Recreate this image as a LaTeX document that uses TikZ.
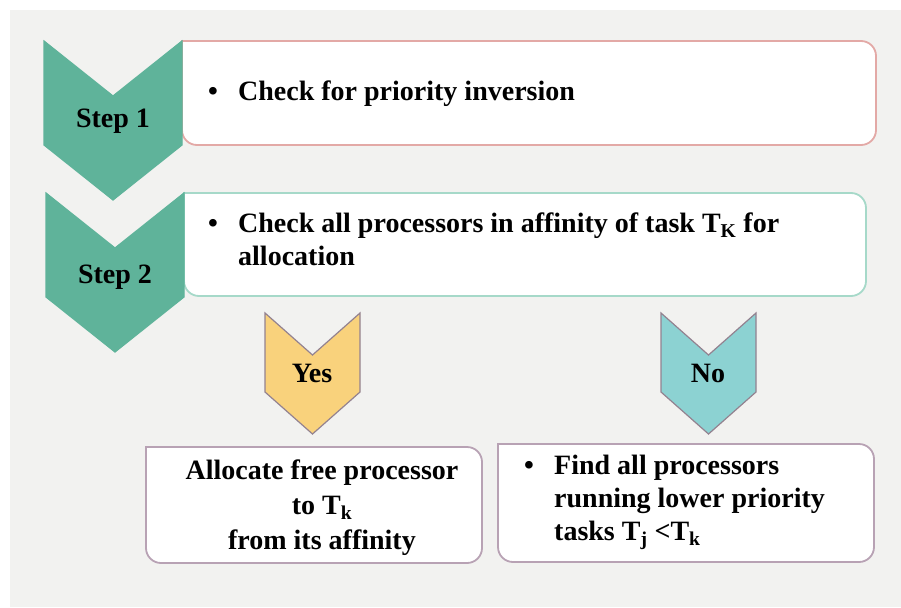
\documentclass[tikz,border=0pt]{standalone}
\usepackage{fontspec}
\setmainfont{Liberation Serif}[BoldFont={Liberation Serif Bold}]
\definecolor{fond}{HTML}{F2F2F0}
\definecolor{vert}{HTML}{5FB39A}
\definecolor{rose}{HTML}{E3A9A6}
\definecolor{menthe}{HTML}{A6D9C9}
\definecolor{jaune}{HTML}{F9D27C}
\definecolor{cyan2}{HTML}{8CD2D2}
\definecolor{mauve}{HTML}{B8A2B4}

\begin{document}
\begin{tikzpicture}[x=1pt, y=-1pt, anchor=center, font=\rmfamily\bfseries\fontsize{28}{33}\selectfont]

		\newcommand{\mkchevron}[7]{
			%x, y, width, height, notch, fill, border
			\filldraw[fill=#6, draw=#7, line width=1.2pt, line join=miter] (#1,#2) -- (#1+#3/2,#2+#5) -- (#1+#3,#2) -- (#1+#3,#2+#4) -- (#1+#3/2,#2+#4+#5) -- (#1,#2+#4) -- cycle;
		}

		\newcommand{\mkbox}[5]{
			%square on the left, rounded on the right
			\filldraw[fill=white, draw=#5, line width=1.8pt] (#1,#2) [rounded corners=15pt] -- (#3,#2) -- (#3,#4) -- (#1,#4) [sharp corners] -- cycle;
		}

		\newcommand{\bul}{\makebox[30pt][l]{\textbullet}}
		\newcommand{\ind}{\hspace*{30pt}}

		%background
		\fill[white] (0,0) rectangle (901,607);
		\fill[fond] (10,10) rectangle (901,607);

		%boxes
		\mkbox{182}{41}{876}{145}{rose}
		\mkbox{184}{193}{866}{296}{menthe}
		\mkbox{146}{447}{482}{563}{mauve}
		\mkbox{498}{444}{874}{562}{mauve}

		%chevrons
		\mkchevron{44}{41}{138}{104}{55}{vert}{vert}
		\mkchevron{46}{193}{138}{104}{55}{vert}{vert}
		\mkchevron{265}{313}{95}{79}{42}{jaune}{mauve!80!black}
		\mkchevron{661}{313}{95}{79}{42}{cyan2}{mauve!80!black}

		%texts
		\node[anchor=base] (s1) at (113,128) {Step 1};
		\node[anchor=base] (s2) at (115,283) {Step 2};
		\node[anchor=base] (yes) at (312,382) {Yes};
		\node[anchor=base] (no) at (708,382) {No};

		\node[anchor=base west, inner sep=0] (t1) at (208,100) {\bul Check for priority inversion};
		\node[anchor=north west, inner sep=0, align=left] (t2) at (208,213)
			{\bul Check all processors in affinity of task T\textsubscript{K} for\\ \ind allocation};
		\node[inner sep=0, align=center, font=\rmfamily\bfseries\fontsize{28}{35}\selectfont] (t3) at (322,508)
			{Allocate free processor\\ to T\textsubscript{k}\\ from its affinity};
		\node[anchor=north west, inner sep=0, align=left] (t4) at (524,455)
			{\bul Find all processors\\ \ind running lower priority\\ \ind tasks T\textsubscript{j} <T\textsubscript{k}};

\end{tikzpicture}
\end{document}
